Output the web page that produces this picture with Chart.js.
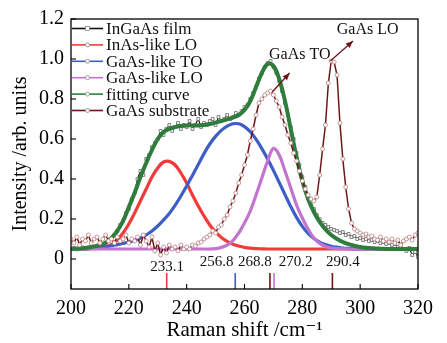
<!DOCTYPE html>
<html><head><meta charset="utf-8">
<script src="https://cdn.jsdelivr.net/npm/chart.js@4.4.0/dist/chart.umd.min.js"></script>
<style>html,body{margin:0;padding:0;background:#fff;}</style>
</head><body>
<canvas id="c" width="447" height="343"></canvas>
<script>
// ---- data ----
const shiftFine = [200,201,202,203,204,205,206,207,208,209,210,211,212,213,214,215,216,217,218,219,
220,221,222,223,224,225,226,227,228,229,230,231,232,233,234,235,236,237,238,239,
240,241,242,243,244,245,246,247,248,249,250,251,252,253,254,255,256,257,258,259,
260,261,262,263,264,265,266,267,268,269,270,271,272,273,274,275,276,277,278,279,
280,281,282,283,284,285,286,287,288,289,290,291,292,293,294,295,296,297,298,299,
300,301,302,303,304,305,306,307,308,309,310,311,312,313,314,315,316,317,318,319,320];
const shiftFit = [200,202,204,206,208,210,212,214,216,218,220,222,224,226,228,230,232,234,236,238,
240,242,244,246,248,250,252,254,256,258,260,262,264,266,268,270,272,274,276,278,
280,282,284,286,288,290,292,294,296,298,300,302,304,306,308,310,312,314,316,318,320];

const ingaasFilm = [.05,.055,.048,.052,.058,.05,.055,.06,.057,.063,
.068,.072,.08,.09,.1,.12,.14,.17,.19,.23,
.25,.3,.33,.4,.44,.42,.5,.52,.56,.58,
.6,.64,.62,.65,.67,.64,.66,.68,.65,.67,
.66,.69,.65,.67,.7,.66,.68,.67,.69,.7,
.67,.71,.69,.7,.72,.7,.71,.73,.72,.74,
.76,.77,.8,.83,.86,.9,.93,.96,.98,.99,
.96,.93,.89,.84,.78,.72,.66,.6,.53,.47,
.41,.36,.31,.27,.25,.22,.2,.18,.17,.16,
.15,.145,.14,.13,.135,.12,.125,.11,.115,.1,
.105,.095,.1,.09,.095,.085,.09,.08,.085,.075,
.08,.07,.075,.06,.065,.05,.04,.055,.02,.035,
.01];

const gaasSubstrate = [.1,.08,.11,.07,.1,.09,.12,.08,.1,.11,
.08,.1,.12,.09,.1,.08,.11,.09,.1,.12,
.08,.1,.09,.11,.07,.12,.09,.06,.11,.04,
.08,.02,.06,.03,.07,.05,.06,.04,.07,.05,
.06,.05,.07,.065,.08,.085,.1,.11,.12,.14,
.13,.16,.17,.2,.22,.26,.29,.33,.38,.42,
.47,.52,.59,.65,.72,.78,.8,.82,.83,.84,
.82,.79,.76,.71,.67,.62,.58,.53,.49,.44,
.39,.35,.32,.3,.29,.31,.42,.55,.67,.88,
.99,.985,.92,.68,.5,.36,.25,.18,.15,.14,
.13,.12,.125,.11,.115,.1,.095,.11,.09,.1,
.085,.1,.08,.095,.07,.09,.1,.11,.095,.12,
.13];

const inasLO = [.05,.05,.05,.051,.053,.056,.062,.072,.095,.13,
.175,.23,.29,.35,.41,.455,.485,.488,.47,.43,
.38,.32,.265,.215,.17,.135,.108,.088,.074,.065,
.058,.054,.052,.051,.05,.05,.05,.05,.05,.05,
.05,.05,.05,.05,.05,.05,.05,.05,.05,.05,
.05,.05,.05,.05,.05,.05,.05,.05,.05,.05,.05];

const gaasTO = [.05,.05,.051,.052,.054,.057,.061,.066,.072,.078,
.085,.093,.105,.12,.14,.165,.195,.228,.268,.315,
.365,.418,.472,.527,.575,.613,.643,.664,.676,.676,
.662,.636,.598,.552,.5,.443,.383,.322,.262,.208,
.163,.128,.102,.084,.072,.064,.059,.055,.053,.051,
.05,.05,.05,.05,.05,.05,.05,.05,.05,.05,.05];

const gaasLO = [.05,.05,.05,.05,.05,.05,.05,.05,.05,.05,
.05,.05,.05,.05,.05,.05,.05,.05,.05,.05,
.05,.05,.05,.05,.05,.052,.058,.07,.092,.13,
.18,.24,.32,.405,.49,.553,.52,.44,.355,.27,
.205,.15,.105,.078,.063,.055,.052,.051,.05,.05,
.05,.05,.05,.05,.05,.05,.05,.05,.05,.05,.05];

const fittingCurve = [.05,.052,.054,.058,.063,.07,.082,.105,.14,.19,
.26,.33,.41,.48,.545,.6,.635,.65,.66,.665,
.668,.668,.668,.67,.675,.682,.69,.698,.707,.72,
.745,.79,.86,.93,.975,.965,.9,.79,.65,.51,
.39,.3,.235,.185,.148,.12,.1,.085,.074,.066,
.06,.056,.054,.052,.051,.05,.05,.05,.05,.05,.05];

const peakPositions = [233.1, 256.8, 268.8, 270.2, 290.4];
const peakLabels = ['233.1','256.8','268.8','270.2','290.4'];
const xTicks = [200,220,240,260,280,300,320];
const yTicks = [0,0.2,0.4,0.6,0.8,1.0,1.2];
const seriesNames = ['InGaAs film','InAs-like LO','GaAs-like TO','GaAs-like LO','fitting curve','GaAs substrate'];
const annotationLabels = ['GaAs TO','GaAs LO'];

// ---- build ----
const pts = (xs, ys) => xs.map((x, i) => ({x, y: ys[i]}));
const COL = {film:'#111111', red:'#f23a3a', blue:'#3d5ec6', purple:'#c274cf', green:'#2f7d3c', sub:'#6e1616'};
const peakColors = [COL.red, COL.blue, COL.sub, COL.purple, COL.sub];
const SERIF = "'Liberation Serif', 'DejaVu Serif', serif";

const datasets = [
  {label:seriesNames[0], data:pts(shiftFine, ingaasFilm), borderColor:COL.film, borderWidth:1.1,
   pointStyle:'rect', pointRadius:2, pointBackgroundColor:'#ffffff', pointBorderColor:'#666', pointBorderWidth:0.8, order:6},
  {label:seriesNames[1], data:pts(shiftFit, inasLO), borderColor:COL.red, borderWidth:3.2, tension:0.4,
   pointRadius:0, order:5},
  {label:seriesNames[2], data:pts(shiftFit, gaasTO), borderColor:COL.blue, borderWidth:3.2, tension:0.4,
   pointRadius:0, order:4},
  {label:seriesNames[3], data:pts(shiftFit, gaasLO), borderColor:COL.purple, borderWidth:3.2, tension:0.4,
   pointRadius:0, order:3},
  {label:seriesNames[4], data:pts(shiftFit, fittingCurve), borderColor:COL.green, borderWidth:4, tension:0.4,
   pointRadius:0, order:2},
  {label:seriesNames[5], data:pts(shiftFine, gaasSubstrate), borderColor:COL.sub, borderWidth:1.5,
   pointStyle:'circle', pointRadius:2, pointBackgroundColor:'#ffffff', pointBorderColor:'#b98080', pointBorderWidth:0.8, order:1}
];
peakPositions.forEach((p, i) => {
  datasets.push({label:'_peak'+i, data:[{x:p,y:-0.07},{x:p,y:-0.15}], borderColor:peakColors[i], borderWidth:1.6,
    pointRadius:0, order:0});
});

const legendColors = [COL.film, COL.red, COL.blue, COL.purple, COL.green, COL.sub];
const legendMarker = ['rect','circle','circle','circle','circle','circle'];

function arrow(ctx, x1, y1, x2, y2, color) {
  ctx.save();
  ctx.strokeStyle = color; ctx.fillStyle = color; ctx.lineWidth = 1.3;
  ctx.beginPath(); ctx.moveTo(x1, y1); ctx.lineTo(x2, y2); ctx.stroke();
  const a = Math.atan2(y2 - y1, x2 - x1), L = 7, W = 3;
  ctx.beginPath();
  ctx.moveTo(x2, y2);
  ctx.lineTo(x2 - L*Math.cos(a) + W*Math.sin(a), y2 - L*Math.sin(a) - W*Math.cos(a));
  ctx.lineTo(x2 - L*Math.cos(a) - W*Math.sin(a), y2 - L*Math.sin(a) + W*Math.cos(a));
  ctx.closePath(); ctx.fill();
  ctx.restore();
}

const decor = {
  id:'decor',
  afterDatasetsDraw(chart) {
    const {ctx, chartArea:ca, scales:{x, y}} = chart;
    ctx.save();
    // frame
    ctx.strokeStyle = '#000'; ctx.lineWidth = 1.3;
    ctx.strokeRect(ca.left, ca.top, ca.right - ca.left, ca.bottom - ca.top);
    // inward ticks
    ctx.lineWidth = 1.1;
    xTicks.forEach(v => { const px = x.getPixelForValue(v);
      ctx.beginPath(); ctx.moveTo(px, ca.bottom); ctx.lineTo(px, ca.bottom - 5); ctx.stroke(); });
    yTicks.forEach(v => { const py = y.getPixelForValue(v);
      ctx.beginPath(); ctx.moveTo(ca.left, py); ctx.lineTo(ca.left + 5, py); ctx.stroke(); });
    // peak labels
    const labelPos = [[233.2,-0.04],[250.4,-0.013],[263.6,-0.013],[277.7,-0.013],[294.0,-0.015]];
    ctx.fillStyle = '#111'; ctx.font = '15px ' + SERIF; ctx.textAlign = 'center'; ctx.textBaseline = 'middle';
    peakLabels.forEach((t, i) => ctx.fillText(t, x.getPixelForValue(labelPos[i][0]), y.getPixelForValue(labelPos[i][1])));
    // annotations
    ctx.font = '16px ' + SERIF;
    ctx.fillText(annotationLabels[0], x.getPixelForValue(279.1), y.getPixelForValue(1.02));
    ctx.fillText(annotationLabels[1], x.getPixelForValue(302.6), y.getPixelForValue(1.145));
    arrow(ctx, x.getPixelForValue(269.6), y.getPixelForValue(0.835), x.getPixelForValue(275.6), y.getPixelForValue(0.93), COL.sub);
    arrow(ctx, x.getPixelForValue(289.7), y.getPixelForValue(0.99), x.getPixelForValue(297.5), y.getPixelForValue(1.09), COL.sub);
    // legend
    ctx.textAlign = 'left'; ctx.font = '17px ' + SERIF;
    seriesNames.forEach((n, i) => {
      const yy = ca.top + 9.5 + i * 16.4, x1 = ca.left + 1, x2 = ca.left + 32;
      ctx.strokeStyle = legendColors[i]; ctx.lineWidth = 1.6;
      ctx.beginPath(); ctx.moveTo(x1, yy); ctx.lineTo(x2, yy); ctx.stroke();
      ctx.fillStyle = '#fff'; ctx.strokeStyle = '#888'; ctx.lineWidth = 0.8;
      const mx = (x1 + x2) / 2;
      if (legendMarker[i] === 'rect') { ctx.fillRect(mx-2, yy-2, 4, 4); ctx.strokeRect(mx-2, yy-2, 4, 4); }
      else { ctx.beginPath(); ctx.arc(mx, yy, 2, 0, Math.PI*2); ctx.fill(); ctx.stroke(); }
      ctx.fillStyle = '#111';
      ctx.fillText(n, ca.left + 35, yy + 1);
    });
    ctx.restore();
  }
};

new Chart(document.getElementById('c'), {
  type:'line',
  data:{datasets},
  options:{
    responsive:false, animation:false, devicePixelRatio:1,
    layout:{padding:{top:16, right:29, left:0, bottom:0}},
    plugins:{legend:{display:false}, tooltip:{enabled:false}},
    events:[],
    scales:{
      x:{type:'linear', min:200, max:320,
        afterBuildTicks:s => { s.ticks = xTicks.map(v => ({value:v})); },
        afterFit:s => { s.height = 54; },
        grid:{display:false, drawTicks:false}, border:{display:false},
        ticks:{padding:8, color:'#000', maxRotation:0, autoSkip:false, font:{family:SERIF, size:20}},
        title:{display:true, text:'Raman shift /cm\u207B\u00B9', color:'#000', font:{family:SERIF, size:21}, padding:{top:1, bottom:0}}
      },
      y:{type:'linear', min:-0.15, max:1.2,
        afterBuildTicks:s => { s.ticks = yTicks.map(v => ({value:v})); },
        afterFit:s => { s.width = 71; },
        grid:{display:false, drawTicks:false}, border:{display:false},
        ticks:{padding:7, color:'#000', font:{family:SERIF, size:20}, callback:v => v === 0 ? '0' : v.toFixed(1)},
        title:{display:true, text:'Intensity /arb. units', color:'#000', font:{family:SERIF, size:20}, padding:{top:9, bottom:0}}
      }
    }
  },
  plugins:[decor]
});
</script>
</body></html>
